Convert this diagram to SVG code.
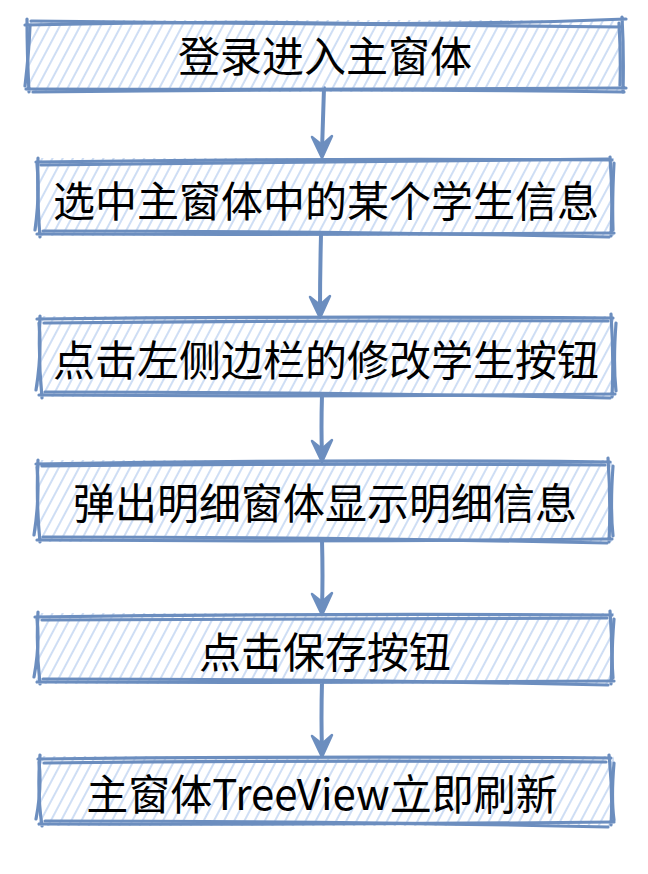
<svg xmlns="http://www.w3.org/2000/svg" width="648" height="874" viewBox="0 0 648 874">
<style>
.rough{fill:none;stroke:#6c8ebf;stroke-width:3.2;stroke-linecap:round;stroke-linejoin:round}
.lbl{font-family:"Noto Sans CJK SC","Noto Sans",sans-serif;font-size:42px;fill:#000;text-anchor:middle;dominant-baseline:central}
.conn{fill:none;stroke:#6c8ebf;stroke-width:4;stroke-linecap:round}
.head{fill:#6c8ebf;stroke:#6c8ebf;stroke-width:2.5;stroke-linejoin:round}
</style>
<defs>
<pattern id="hatch" patternUnits="userSpaceOnUse" width="9" height="11" patternTransform="rotate(28)">
<line x1="3" y1="0" x2="3" y2="11" stroke="#c6d8f3" stroke-width="1.7"/>
</pattern>
</defs>
<rect width="648" height="874" fill="#fff"/>

<g id="connectors">
<path class="conn" d="M324 88 Q323 120 322 150"/>
<path class="head" d="M322 158 L312 137 L322 145 L332 136 Z"/>
<path class="conn" d="M321 235 Q320 275 320 310"/>
<path class="head" d="M320 318 L310 297 L320 305 L330 296 Z"/>
<path class="conn" d="M322 395 Q321 430 322 454"/>
<path class="head" d="M322 462 L312 441 L322 449 L332 440 Z"/>
<path class="conn" d="M322 540 Q323 578 322 607"/>
<path class="head" d="M322 615 L312 594 L322 602 L332 593 Z"/>
<path class="conn" d="M322 682 Q321 720 322 749"/>
<path class="head" d="M322 757 L312 736 L322 744 L332 735 Z"/>
</g>

<g id="n1" transform="translate(28,22)">
<rect x="-2" y="-2" width="598" height="72" fill="url(#hatch)"/>
<path class="rough" d="M-3 3 Q150 -1 300 1 T598 -3 M594 -5 Q596 30 595 70 M598 66 Q300 68 -2 67 M1 70 Q-1 30 -1 -3"/>
<path class="rough" d="M3 -1 Q300 3 594 5 M591 1 Q593 35 592 63 M596 70 Q300 66 5 70 M-3 64 Q1 30 2 4"/>
<text class="lbl" x="297" y="31">登录进入主窗体</text>
</g>

<g id="n2" transform="translate(38,160)">
<rect x="-2" y="-2" width="578" height="78" fill="url(#hatch)"/>
<path class="rough" d="M-2 2 Q280 -2 574 0 M572 -3 Q575 35 573 76 M576 73 Q290 75 -1 74 M2 77 Q-1 40 0 -2"/>
<path class="rough" d="M3 5 Q290 3 570 -1 M576 3 Q574 40 575 70 M571 77 Q300 71 5 71 M-3 70 Q2 35 -1 4"/>
<text class="lbl" x="288" y="38">选中主窗体中的某个学生信息</text>
</g>

<g id="n3" transform="translate(40,318)">
<rect x="-2" y="-2" width="576" height="81" fill="url(#hatch)"/>
<path class="rough" d="M-3 1 Q280 -2 573 0 M571 -4 Q574 40 572 79 M575 76 Q290 79 -1 77 M2 80 Q-2 40 0 -2"/>
<path class="rough" d="M4 5 Q290 2 568 3 M576 5 Q573 45 576 73 M570 80 Q300 74 5 74 M-4 72 Q2 35 -1 5"/>
<text class="lbl" x="286" y="39">点击左侧边栏的修改学生按钮</text>
</g>

<g id="n4" transform="translate(38,462)">
<rect x="-2" y="-2" width="576" height="82" fill="url(#hatch)"/>
<path class="rough" d="M-2 2 Q280 -3 572 0 M570 -4 Q573 40 571 80 M574 77 Q290 80 -1 78 M2 80 Q-2 40 0 -2"/>
<path class="rough" d="M4 4 Q290 1 567 3 M575 4 Q572 45 575 74 M569 81 Q300 75 5 75 M-4 73 Q2 35 -1 5"/>
<text class="lbl" x="287" y="38">弹出明细窗体显示明细信息</text>
</g>

<g id="n5" transform="translate(38,615)">
<rect x="-2" y="-2" width="578" height="71" fill="url(#hatch)"/>
<path class="rough" d="M-3 2 Q280 -2 574 0 M572 -4 Q575 35 573 69 M576 66 Q290 68 -1 67 M2 69 Q-2 35 0 -3"/>
<path class="rough" d="M4 5 Q290 3 569 3 M576 4 Q573 40 575 63 M570 70 Q300 64 5 64 M-4 62 Q2 30 -1 4"/>
<text class="lbl" x="287" y="34">点击保存按钮</text>
</g>

<g id="n6" transform="translate(40,758)">
<rect x="-2" y="-2" width="576" height="70" fill="url(#hatch)"/>
<path class="rough" d="M-2 1 Q280 -2 571 0 M569 -3 Q573 35 571 67 M574 64 Q290 67 -1 66 M2 68 Q-3 35 0 -3"/>
<path class="rough" d="M4 5 Q290 2 566 4 M574 5 Q571 40 574 62 M568 69 Q300 63 5 63 M-4 61 Q2 30 -1 4"/>
<text class="lbl" x="282" y="33">主窗体TreeView立即刷新</text>
</g>
</svg>
